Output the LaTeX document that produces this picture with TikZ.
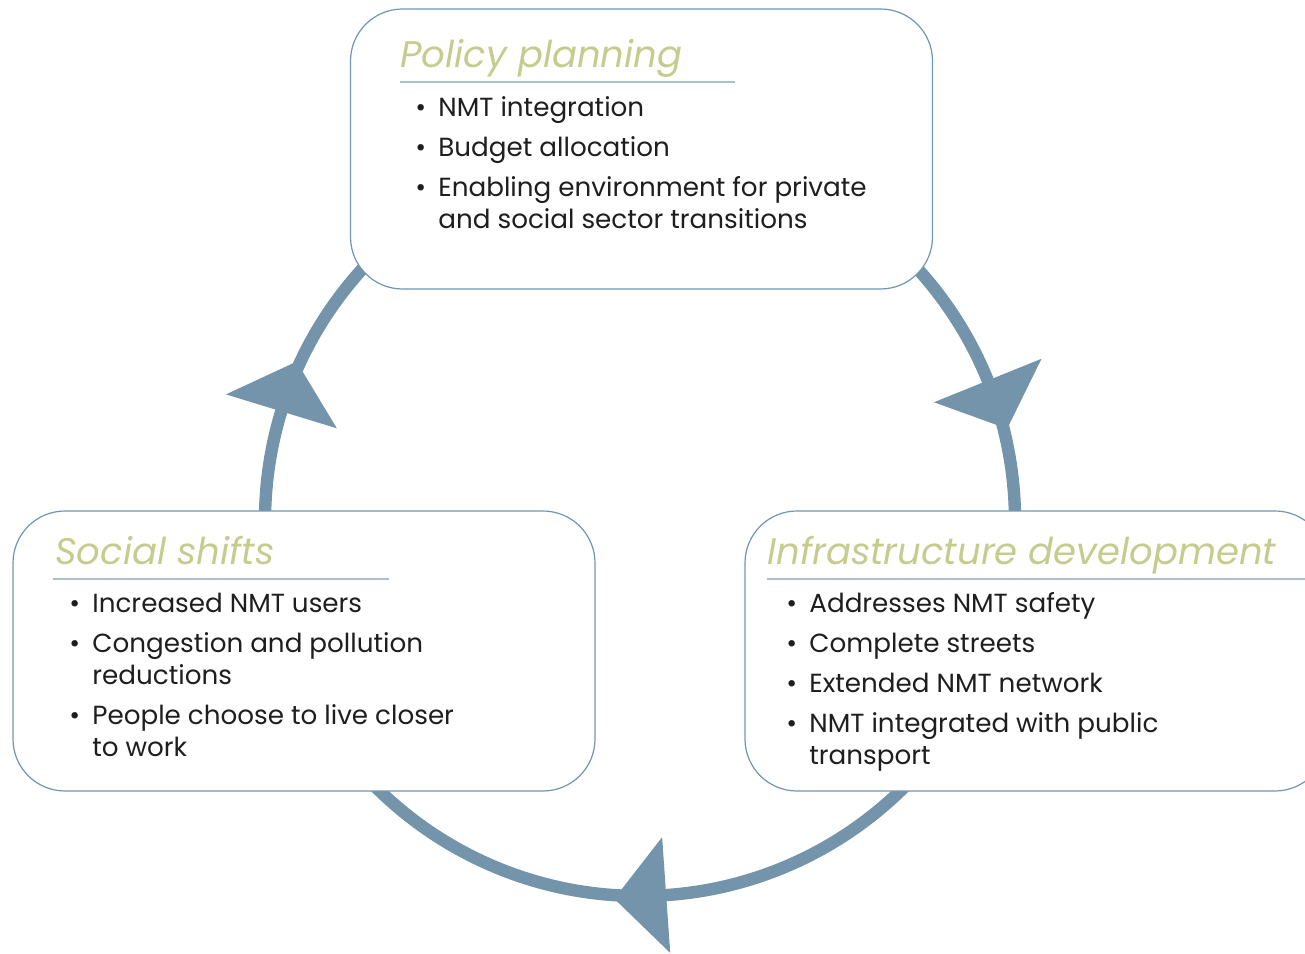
\documentclass[tikz,border=0pt]{standalone}
\usepackage{fontspec}
\setmainfont{Poppins}
\usepackage{xcolor}
\usetikzlibrary{arrows.meta,positioning,calc}
\definecolor{ringblue}{HTML}{7394AB}
\definecolor{boxline}{HTML}{7096B2}
\definecolor{titlegreen}{HTML}{C5CC8E}
\definecolor{rulegrey}{HTML}{A9BECE}
\definecolor{textdark}{HTML}{1E1E1E}

\begin{document}
\begin{tikzpicture}[x=0.5pt,y=0.5pt,
  stage/.style={draw=boxline,line width=0.6pt,fill=white,rounded corners=26pt,
    minimum width=291pt,minimum height=140pt,inner sep=0pt},
  stagetitle/.style={anchor=base west,inner sep=0pt,text=titlegreen,
    font=\fontsize{18.5}{22}\selectfont\itshape},
  bullets/.style={anchor=base west,inner sep=0pt,text=textdark,
    font=\fontsize{13.1}{16}\selectfont},
  titlerule/.style={rulegrey,line width=0.8pt}]
  \clip (0,0) rectangle (1305,953);
  \coordinate (ring) at (640,432);
  % the cycle
  \draw[ringblue,line width=6.2pt] (ring) circle (375);
  \foreach \a in {163,22,274}
    \fill[ringblue] ($(ring)+(\a:433)$) -- ($(ring)+(\a:375)+(\a-90:52)$)
      -- ($(ring)+(\a:317)$) -- cycle;
  % stages
  \node[stage] (policy) at (641.5,804) {};
  \node[stage] (social) at (304,302) {};
  \node[stage] (infra) at (1036,302) {};
  \node[stagetitle] (policytitle) at (400,885) {Policy planning};
  \node[stagetitle] (socialtitle) at (55,388) {Social shifts};
  \node[stagetitle] (infratitle) at (767,388) {Infrastructure development};
  \draw[titlerule] (400,871) -- (735,871);
  \draw[titlerule] (53,374) -- (389,374);
  \draw[titlerule] (767,374) -- (1310,374);
  \node[bullets] (policylist) at (415,836) {\begin{tabular}[t]{@{}p{11.5pt}@{}l@{}}
    \textbullet & NMT integration\\[4pt]
    \textbullet & Budget allocation\\[4pt]
    \textbullet & Enabling environment for private\\
    & and social sector transitions
  \end{tabular}};
  \node[bullets] (sociallist) at (69,340) {\begin{tabular}[t]{@{}p{11.5pt}@{}l@{}}
    \textbullet & Increased NMT users\\[4pt]
    \textbullet & Congestion and pollution\\
    & reductions\\[4pt]
    \textbullet & People choose to live closer\\
    & to work
  \end{tabular}};
  \node[bullets] (infralist) at (786,340) {\begin{tabular}[t]{@{}p{11.5pt}@{}l@{}}
    \textbullet & Addresses NMT safety\\[4pt]
    \textbullet & Complete streets\\[4pt]
    \textbullet & Extended NMT network\\[4pt]
    \textbullet & NMT integrated with public\\
    & transport
  \end{tabular}};
\end{tikzpicture}
\end{document}
